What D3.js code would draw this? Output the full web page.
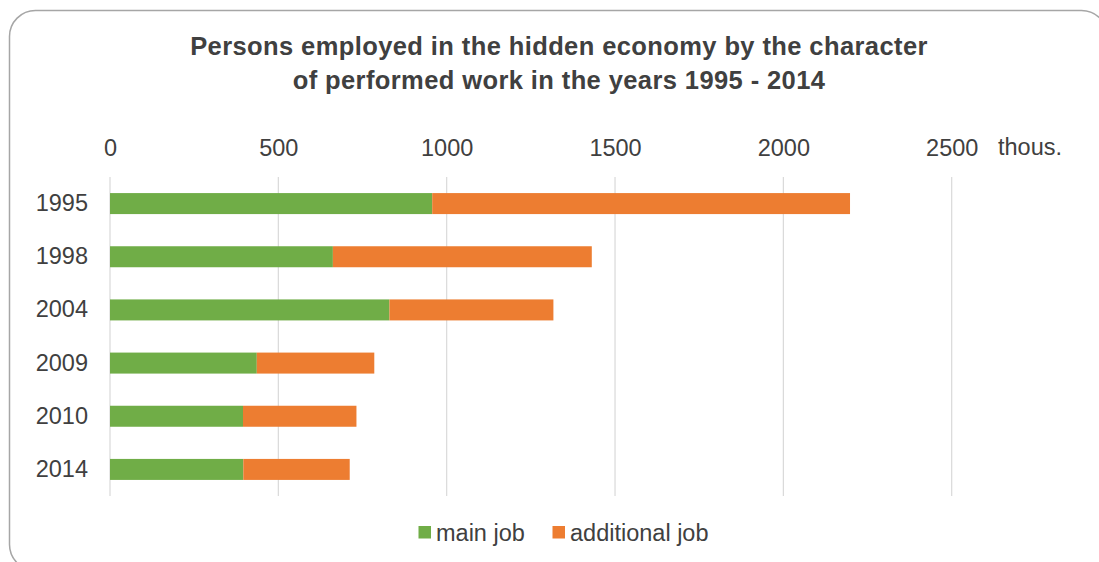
<!DOCTYPE html>
<html>
<head>
<meta charset="utf-8">
<script src="https://cdn.jsdelivr.net/npm/d3@7"></script>
<style>
  html, body { margin: 0; padding: 0; background: #fff; }
  svg { display: block; font-family: "Liberation Sans", Arial, sans-serif; }
</style>
</head>
<body>
<svg id="chart" width="1099" height="562"></svg>
<script>
const years = ["1995", "1998", "2004", "2009", "2010", "2014"];
const mainJob = [957, 662, 830, 436, 395, 396];
const additionalJob = [1241, 769, 487, 349, 337, 316];
const tickValues = [0, 500, 1000, 1500, 2000, 2500];
const seriesNames = ["main job", "additional job"];
const seriesColors = ["#70ad47", "#ed7d31"];
const titleLines = ["Persons employed in the hidden economy by the character", "of performed work in the years 1995 - 2014"];
const unitLabel = "thous.";

const svg = d3.select("#chart");

// frame
svg.append("rect")
  .attr("x", 9.5).attr("y", 10.5)
  .attr("width", 1098).attr("height", 560)
  .attr("rx", 26).attr("ry", 26)
  .attr("fill", "#fff").attr("stroke", "#a6a6a6").attr("stroke-width", 1.5);

// title
svg.append("text")
  .attr("x", 559).attr("text-anchor", "middle")
  .attr("font-size", 25.5).attr("font-weight", "bold").attr("fill", "#404040")
  .attr("letter-spacing", 0.4)
  .selectAll("tspan").data(titleLines).join("tspan")
  .attr("x", 559).attr("y", (d, i) => 54.5 + i * 34)
  .text(d => d);

const x = d3.scaleLinear().domain([0, 2500]).range([110, 951.7]);
const y = d3.scaleBand().domain(years).range([177, 496]).paddingInner(0.605).paddingOuter(0.3025);

// gridlines
svg.append("g").selectAll("line").data(tickValues).join("line")
  .attr("x1", d => x(d)).attr("x2", d => x(d))
  .attr("y1", 177).attr("y2", 496)
  .attr("stroke", "#d9d9d9").attr("stroke-width", 1.2);

// top axis labels
const xAxis = d3.axisTop(x).tickValues(tickValues).tickSize(0).tickPadding(0).tickFormat(d3.format("d"));
const gx = svg.append("g").attr("transform", "translate(0,156)").call(xAxis);
gx.select(".domain").remove();
gx.selectAll("text").attr("font-size", 23.5).attr("fill", "#404040")
  .attr("font-family", "Liberation Sans, Arial, sans-serif").attr("dy", 0);

svg.append("text").attr("x", 998).attr("y", 154.5)
  .attr("font-size", 23.5).attr("fill", "#404040").text(unitLabel);

// left axis labels
const yAxis = d3.axisLeft(y).tickSize(0).tickPadding(22);
const gy = svg.append("g").attr("transform", "translate(110,0)").call(yAxis);
gy.select(".domain").remove();
gy.selectAll("text").attr("font-size", 23.5).attr("fill", "#404040")
  .attr("font-family", "Liberation Sans, Arial, sans-serif");

// stacked bars
const rows = years.map((yr, i) => ({ year: yr, "main job": mainJob[i], "additional job": additionalJob[i] }));
const stack = d3.stack().keys(seriesNames)(rows);
svg.append("g").selectAll("g").data(stack).join("g")
  .attr("fill", (d, i) => seriesColors[i])
  .selectAll("rect").data(d => d).join("rect")
  .attr("x", d => x(d[0])).attr("width", d => x(d[1]) - x(d[0]))
  .attr("y", d => y(d.data.year)).attr("height", y.bandwidth());

// legend
const legendItems = [{ name: seriesNames[0], color: seriesColors[0], x: 418.5 }, { name: seriesNames[1], color: seriesColors[1], x: 552.5 }];
const lg = svg.append("g").selectAll("g").data(legendItems).join("g")
  .attr("transform", d => `translate(${d.x},526)`);
lg.append("rect").attr("width", 12.5).attr("height", 12.5).attr("fill", d => d.color);
lg.append("text").attr("x", 17.5).attr("y", 14.5)
  .attr("font-size", 23.5).attr("fill", "#404040").text(d => d.name);
</script>
</body>
</html>
